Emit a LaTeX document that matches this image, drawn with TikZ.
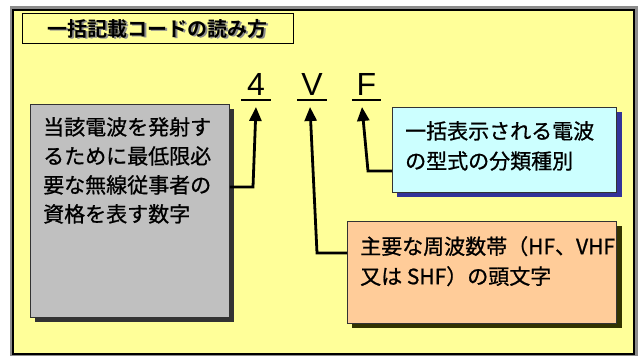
\documentclass[tikz,border=0pt]{standalone}
\usepackage{fontspec}
\setmainfont{Liberation Sans}
\newfontfamily\jp{Noto Sans CJK JP}[BoldFont={Noto Sans CJK JP Bold}]
\newfontfamily\jpm{Noto Sans CJK JP}[FakeBold=0.9]
\usetikzlibrary{arrows.meta}
\definecolor{bgy}{HTML}{FFFF99}
\definecolor{graybox}{HTML}{C0C0C0}
\definecolor{grayshadow}{HTML}{333333}
\definecolor{cyanbox}{HTML}{CCFFFF}
\definecolor{cyanshadow}{HTML}{333399}
\definecolor{orangebox}{HTML}{FFCC99}
\definecolor{orangeshadow}{HTML}{333300}
\definecolor{framegray}{HTML}{8C8C8C}
\tikzset{
  infobox/.style={draw=black!80, line width=0.8pt, anchor=north west, inner sep=0pt},
  boxtext/.style={anchor=north west, inner sep=0pt, align=left, font=\jpm\fontsize{21}{29}\selectfont},
  codeletter/.style={anchor=base, inner sep=0pt, minimum width=29pt, font=\fontsize{32}{32}\selectfont},
  underl/.style={line width=2.5pt},
  arr/.style={line width=2.8pt, line join=miter, -{Triangle[width=12pt,length=14pt]}},
}
\begin{document}
\begin{tikzpicture}[x=1pt,y=-1pt]
\useasboundingbox (0,0) rectangle (641,356);
\fill[white] (0,0) rectangle (641,356);
\fill[framegray] (10,6) rectangle (638,356);
\draw[line width=2pt, fill=bgy] (13,10) rectangle (634,354);

% title
\node[draw, fill=bgy, line width=1pt, anchor=north west, minimum width=271pt, minimum height=30pt, inner sep=0pt] (titlebox) at (22,13) {};
\node[text=black!45, font=\jp\bfseries\fontsize{20}{20}\selectfont] (titleshadow) at ([shift={(1.5,1.5)}]titlebox.center) {一括記載コードの読み方};
\node[font=\jp\bfseries\fontsize{20}{20}\selectfont] (title) at (titlebox.center) {一括記載コードの読み方};

% code letters
\node[codeletter] (n4) at (256,95) {4};
\node[codeletter] (nV) at (312,95) {V};
\node[codeletter] (nF) at (366.5,95) {F};
\draw[underl] ([yshift=-5pt]n4.base west) -- ([yshift=-5pt]n4.base east);
\draw[underl] ([yshift=-5pt]nV.base west) -- ([yshift=-5pt]nV.base east);
\draw[underl] ([yshift=-5pt]nF.base west) -- ([yshift=-5pt]nF.base east);

% gray box
\fill[grayshadow] (34.5,108.5) rectangle (233.5,321.5);
\node[infobox, fill=graybox, minimum width=199pt, minimum height=213pt] (gray) at (30,104) {};
\node[boxtext] (graytext) at (43,117) {当該電波を発射す\\るために最低限必\\要な無線従事者の\\資格を表す数字};

% cyan box
\fill[cyanshadow] (397,112) rectangle (621.5,197);
\node[infobox, fill=cyanbox, minimum width=224pt, minimum height=85pt] (cyan) at (392,107) {};
\node[boxtext, font=\jpm\fontsize{21}{30}\selectfont] (cyantext) at (405,121) {一括表示される電波\\の型式の分類種別};

% orange box
\fill[orangeshadow] (352,226) rectangle (621.5,328);
\node[infobox, fill=orangebox, minimum width=269pt, minimum height=102pt] (orange) at (347,221) {};
\node[boxtext, font=\jpm\fontsize{21}{30}\selectfont] (orangetext) at (360,236) {主要な周波数帯（HF、VHF\\又は SHF）の頭文字};

% connectors
\coordinate (b4) at (253,187);
\coordinate (t4) at (256,107);
\coordinate (bV) at (317,253);
\coordinate (tV) at (310,107);
\coordinate (bF) at (368,171);
\coordinate (tF) at (362,107);
\draw[arr] (gray.east |- b4) -- (b4) -- (t4);
\draw[arr] (orange.west |- bV) -- (bV) -- (tV);
\draw[arr] (cyan.west |- bF) -- (bF) -- (tF);
\end{tikzpicture}
\end{document}
